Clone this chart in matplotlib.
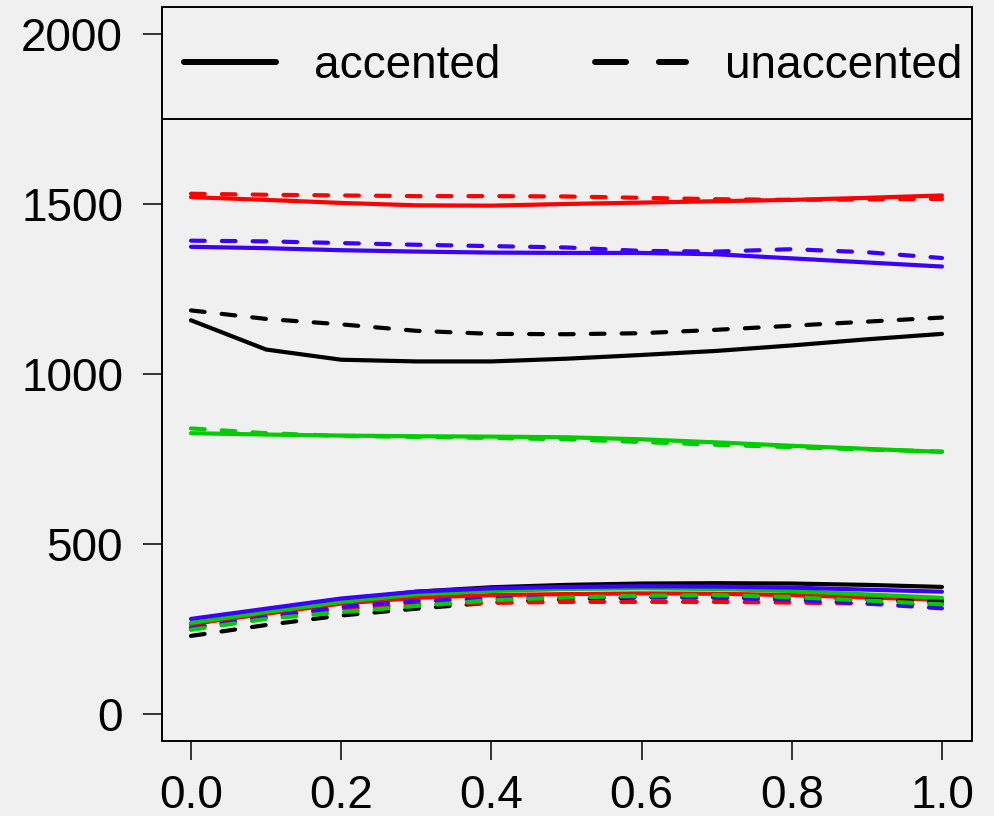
import numpy as np
import matplotlib
matplotlib.use("Agg")
import matplotlib.pyplot as plt
from matplotlib.lines import Line2D

plt.rcParams['font.family'] = ['Liberation Sans', 'DejaVu Sans']

# normalised time points
t = [0.0, 0.1, 0.2, 0.3, 0.4, 0.5, 0.6, 0.7, 0.8, 0.9, 1.0]

# upper formant, accented (solid) / unaccented (dashed)
red_hi_acc = [1520, 1512, 1503, 1496, 1495, 1500, 1504, 1508, 1512, 1518, 1525]
red_hi_una = [1530, 1527, 1525, 1523, 1523, 1522, 1518, 1514, 1512, 1513, 1515]
blue_hi_acc = [1374, 1370, 1364, 1360, 1357, 1356, 1356, 1352, 1340, 1328, 1316]
blue_hi_una = [1392, 1390, 1385, 1380, 1376, 1372, 1362, 1360, 1367, 1358, 1341]
black_hi_acc = [1158, 1072, 1042, 1037, 1037, 1045, 1056, 1068, 1084, 1102, 1118]
black_hi_una = [1187, 1162, 1146, 1127, 1118, 1117, 1120, 1130, 1142, 1154, 1166]
green_hi_acc = [826, 822, 819, 817, 816, 814, 808, 799, 789, 780, 771]
green_hi_una = [840, 826, 818, 815, 812, 808, 800, 792, 785, 778, 772]

# lower formant
black_lo_acc = [265, 300, 335, 360, 373, 380, 384, 385, 384, 380, 374]
red_lo_acc = [265, 295, 325, 342, 350, 353, 355, 354, 350, 343, 336]
green_lo_acc = [268, 300, 330, 352, 362, 368, 370, 368, 362, 352, 342]
blue_lo_acc = [280, 310, 340, 360, 370, 374, 376, 375, 372, 366, 360]
black_lo_una = [230, 262, 290, 310, 328, 338, 343, 344, 342, 336, 330]
red_lo_una = [255, 285, 310, 322, 327, 330, 330, 330, 328, 325, 322]
blue_lo_una = [252, 285, 315, 332, 340, 343, 344, 342, 336, 325, 311]
green_lo_una = [248, 280, 300, 318, 335, 343, 348, 350, 344, 334, 323]

RED = '#ff0000'
BLUE = '#3b00ff'
BLACK = '#000000'
GREEN = '#00cd00'
bg = '#f0f0f0'

fig = plt.figure(figsize=(9.95, 8.16), dpi=100, facecolor=bg)
ax = fig.add_axes([0.1628, 0.0919, 0.8141, 0.8995])
ax.set_facecolor(bg)

lw = 3.0
dash = (3.3, 4.1)

solid = [(black_hi_acc, BLACK), (red_hi_acc, RED), (green_hi_acc, GREEN), (blue_hi_acc, BLUE),
         (black_lo_acc, BLACK), (red_lo_acc, RED), (green_lo_acc, GREEN), (blue_lo_acc, BLUE)]
dashed = [(black_hi_una, BLACK), (red_hi_una, RED), (blue_hi_una, BLUE), (green_hi_una, GREEN),
          (black_lo_una, BLACK), (red_lo_una, RED), (blue_lo_una, BLUE), (green_lo_una, GREEN)]

for y, c in solid:
    ax.plot(t, y, color=c, lw=lw, solid_capstyle='round', solid_joinstyle='round')
for y, c in dashed:
    ax.plot(t, y, color=c, lw=lw, dashes=dash, dash_capstyle='round')

ax.axhline(1750, color='black', lw=1.4)

ax.set_xlim(-0.0386, 1.040)
ax.set_ylim(-79, 2079)
ax.set_xticks([0.0, 0.2, 0.4, 0.6, 0.8, 1.0])
ax.set_xticklabels(['0.0', '0.2', '0.4', '0.6', '0.8', '1.0'])
ax.set_yticks([0, 500, 1000, 1500, 2000])
ax.tick_params(labelsize=33, length=14, width=1.1, direction='out')
ax.tick_params(axis='y', pad=14)
ax.tick_params(axis='x', pad=10)
for s in ax.spines.values():
    s.set_linewidth(1.4)

handles = [Line2D([], [], color='black', lw=4.3, solid_capstyle='round'),
           Line2D([], [], color='black', lw=4.3, dashes=(5.2, 5.5), dash_capstyle='round')]
ax.legend(handles, ['accented', 'unaccented'], loc='center left',
          bbox_to_anchor=(0.027, 0.9196), ncol=2, frameon=False, fontsize=33,
          borderpad=0, borderaxespad=0, handlelength=2.0, handletextpad=0.85,
          columnspacing=2.05)

plt.savefig("out.png", dpi=100, facecolor=bg)
